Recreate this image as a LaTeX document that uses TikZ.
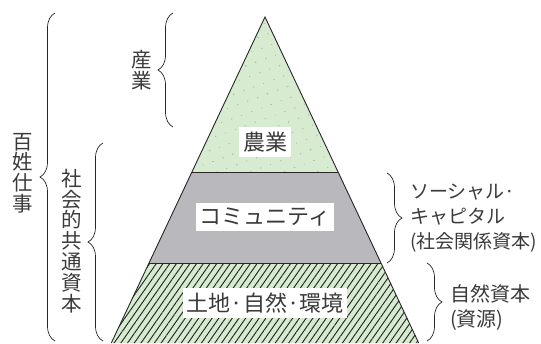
\documentclass[tikz,border=0pt]{standalone}
\usepackage{fontspec}
\setmainfont{Noto Sans CJK JP}
\usetikzlibrary{patterns.meta,decorations.pathreplacing}
\definecolor{pgreen}{HTML}{D6EBD0}
\definecolor{pgray}{HTML}{B9B9BD}
\definecolor{txt}{HTML}{3A3A3A}
\begin{document}
\begin{tikzpicture}[x=1pt,y=-1pt,
  lbl/.style={fill=white, text=txt, font=\fontsize{22}{22}\selectfont, inner xsep=4pt, inner ysep=4.5pt},
  vtext/.style={text=txt, font=\fontsize{20.5}{20.8}\selectfont, align=center, inner sep=0pt},
  rtext/.style={text=txt, font=\fontsize{19}{25}\selectfont, align=left, anchor=west, inner sep=0pt},
  rtextb/.style={rtext, font=\fontsize{20}{25}\selectfont},
  brc/.style={draw=black!85, line width=0.7pt, decorate, decoration={brace, amplitude=15pt}},
  outline/.style={draw=black!85, line width=0.9pt}]
\useasboundingbox (0,0) rectangle (541,343);
\coordinate (apex) at (265,17);
\coordinate (a1) at (191.9,172); \coordinate (b1) at (338.1,172);
\coordinate (a2) at (149,263); \coordinate (b2) at (381,263);
\coordinate (a3) at (111.3,343); \coordinate (b3) at (418.7,343);
\fill[pgreen] (apex) -- (b1) -- (a1) -- cycle;
\fill[pattern={Dots[distance=10.5pt,radius=0.5pt,angle=20]}, pattern color=gray] (apex) -- (b1) -- (a1) -- cycle;
\fill[pgray] (a1) -- (b1) -- (b2) -- (a2) -- cycle;
\fill[pgreen] (a2) -- (b2) -- (b3) -- (a3) -- cycle;
\fill[pattern={Lines[angle=55,distance=5.5pt,line width=0.95pt]}, pattern color=black!85] (a2) -- (b2) -- (b3) -- (a3) -- cycle;
\draw[outline] (a3) -- (apex) -- (b3);
\draw[outline] (a1) -- (b1);
\draw[outline] (a2) -- (b2);
\node[lbl] (nogyo) at (265,142) {農業};
\node[lbl] (comm) at (265,217) {コミュニティ};
\node[lbl] (land) at (265,303) {土地·自然·環境};
\node[vtext] (sangyo) at (142,70) {産\\業};
\node[vtext] (hyaku) at (23,173) {百\\姓\\仕\\事};
\node[vtext] (shakai) at (72,241) {社\\会\\的\\共\\通\\資\\本};
\node[rtext] (social) at (410,218) {ソーシャル·\\キャピタル\\(社会関係資本)};
\node[rtextb] (shizen) at (450,307) {自然資本\\(資源)};
\coordinate (br1t) at (55,13); \coordinate (br1b) at (55,341);
\coordinate (br2t) at (103,143); \coordinate (br2b) at (103,341);
\coordinate (br3t) at (173,13); \coordinate (br3b) at (173,127);
\coordinate (br4t) at (387,173); \coordinate (br4b) at (387,263);
\coordinate (br5t) at (427,263); \coordinate (br5b) at (427,341);
\draw[brc] (br1b) -- (br1t);
\draw[brc] (br2b) -- (br2t);
\draw[brc] (br3b) -- (br3t);
\draw[brc] (br4t) -- (br4b);
\draw[brc] (br5t) -- (br5b);
\end{tikzpicture}
\end{document}
